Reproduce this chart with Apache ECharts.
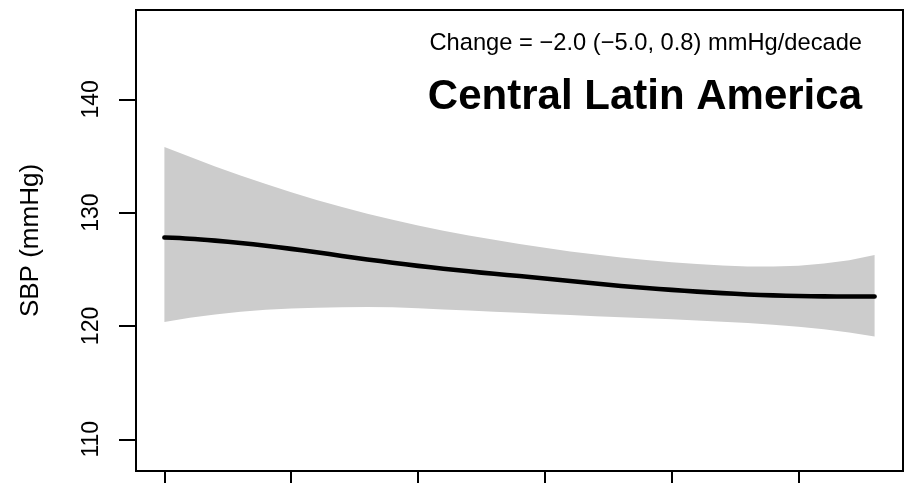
<!DOCTYPE html>
<html>
<head>
<meta charset="utf-8">
<script src="https://cdn.jsdelivr.net/npm/echarts@6/dist/echarts.min.js"></script>
<style>
  html, body { margin: 0; padding: 0; background: #fff; }
  #chart { width: 914px; height: 483px; }
</style>
</head>
<body>
<div id="chart"></div>
<script>
// Survey years
const years = [1985, 1986, 1987, 1988, 1989, 1990, 1991, 1992, 1993, 1994,
               1995, 1996, 1997, 1998, 1999, 2000, 2001, 2002, 2003, 2004,
               2005, 2006, 2007, 2008, 2009, 2010, 2011, 2012, 2013];

// Fitted mean systolic blood pressure (mmHg)
const sbpFit = [127.80, 127.70, 127.53, 127.32, 127.08, 126.80, 126.50, 126.18, 125.87, 125.58,
                125.30, 125.05, 124.82, 124.60, 124.40, 124.18, 123.96, 123.74, 123.53, 123.35,
                123.18, 123.03, 122.90, 122.78, 122.70, 122.64, 122.61, 122.60, 122.60];

// 95% uncertainty interval bounds
const sbpLower = [120.34, 120.72, 121.02, 121.25, 121.42, 121.53, 121.61, 121.66, 121.67, 121.64,
                  121.56, 121.46, 121.36, 121.26, 121.16, 121.06, 120.96, 120.86, 120.77, 120.68,
                  120.59, 120.49, 120.38, 120.25, 120.10, 119.92, 119.70, 119.42, 119.07];
const sbpUpper = [135.80, 134.92, 134.08, 133.28, 132.52, 131.80, 131.12, 130.49, 129.91, 129.37,
                  128.87, 128.41, 127.99, 127.61, 127.24, 126.90, 126.58, 126.30, 126.05, 125.83,
                  125.63, 125.46, 125.33, 125.25, 125.24, 125.32, 125.50, 125.80, 126.25];

// Axis ticks
const xTicks = [1985, 1990, 1995, 2000, 2005, 2010];
const yTicks = [110, 120, 130, 140];

const regionName = 'Central Latin America';
const changeText = 'Change = \u22122.0 (\u22125.0, 0.8) mmHg/decade';

const font = '"Liberation Sans", Arial, sans-serif';

const bandRows = years.map((y, i) => [y, sbpLower[i], sbpUpper[i]]);
const fitPairs = years.map((y, i) => [y, sbpFit[i]]);

// Shaded interval: one polygon running along the upper bound and back along the lower bound
function renderBand(params, api) {
  if (params.dataIndex !== 0) return null;
  const pts = [];
  for (let i = 0; i < bandRows.length; i++) pts.push(api.coord([bandRows[i][0], bandRows[i][2]]));
  for (let i = bandRows.length - 1; i >= 0; i--) pts.push(api.coord([bandRows[i][0], bandRows[i][1]]));
  return {
    type: 'polygon',
    shape: { points: pts },
    style: { fill: '#cccccc', stroke: null }
  };
}

const chart = echarts.init(document.getElementById('chart'), null, { renderer: 'canvas' });

chart.setOption({
  backgroundColor: '#ffffff',
  animation: false,
  grid: {
    left: 136, right: 11, top: 10, bottom: 12,
    show: true,
    borderColor: '#000000',
    borderWidth: 2,
    backgroundColor: 'transparent',
    z: 10
  },
  xAxis: {
    type: 'value',
    min: 1983.88,
    max: 2014.12,
    axisLine: { show: false },
    splitLine: { show: false },
    axisTick: {
      show: true,
      customValues: xTicks,
      length: 16,
      lineStyle: { color: '#000', width: 2 }
    },
    axisLabel: { show: false }
  },
  yAxis: {
    type: 'value',
    min: 107.2,
    max: 147.88,
    axisLine: { show: false },
    splitLine: { show: false },
    axisTick: {
      show: true,
      customValues: yTicks,
      length: 17,
      lineStyle: { color: '#000', width: 2 }
    },
    axisLabel: {
      customValues: yTicks,
      rotate: 90,
      margin: 33,
      color: '#000',
      fontSize: 23,
      fontFamily: font
    },
    name: 'SBP (mmHg)',
    nameLocation: 'middle',
    nameRotate: 90,
    nameGap: 92,
    nameTextStyle: { color: '#000', fontSize: 26, fontFamily: font }
  },
  series: [
    {
      name: 'interval',
      type: 'custom',
      data: bandRows,
      encode: { x: 0, y: [1, 2] },
      renderItem: renderBand,
      silent: true,
      z: 1
    },
    {
      name: 'fit',
      type: 'line',
      data: fitPairs,
      symbol: 'none',
      smooth: 0.3,
      lineStyle: { color: '#000000', width: 4.6, cap: 'round', join: 'round' },
      z: 5
    }
  ],
  graphic: [
    {
      type: 'text',
      z: 10,
      style: {
        x: 862, y: 43,
        text: changeText,
        align: 'right',
        verticalAlign: 'middle',
        fill: '#000',
        font: '23.7px ' + font
      }
    },
    {
      type: 'text',
      z: 10,
      style: {
        x: 862, y: 97,
        text: regionName,
        align: 'right',
        verticalAlign: 'middle',
        fill: '#000',
        font: 'bold 42px ' + font
      }
    }
  ]
});
</script>
</body>
</html>
